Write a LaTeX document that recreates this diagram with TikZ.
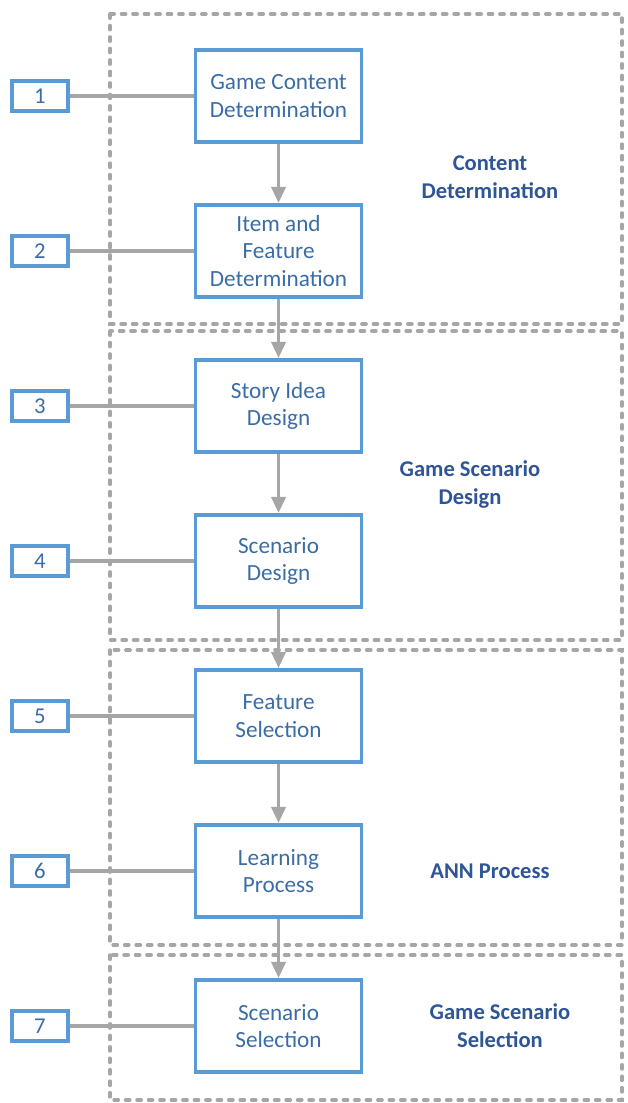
\documentclass[tikz,border=0pt]{standalone}
\usepackage{fontspec}
\setmainfont{Carlito}
\usetikzlibrary{arrows.meta, positioning, calc}
\definecolor{boxblue}{HTML}{5B9BD5}
\definecolor{txtblue}{HTML}{3A6DA6}
\definecolor{lblblue}{HTML}{2F5597}
\definecolor{linegray}{HTML}{A6A6A6}

\begin{document}
\begin{tikzpicture}
		[
	elem/.style={draw=boxblue,line width=2.8pt,rectangle,node distance=43.95pt,align=center,text=txtblue,font=\fontsize{17.4}{20.5}\selectfont,minimum width=124.5pt, minimum height=69.5pt,inner sep=2pt},
	num/.style={draw=boxblue,line width=2.8pt,rectangle,node distance=93pt,text=txtblue,font=\fontsize{17}{20}\selectfont,minimum width=42pt,minimum height=22pt,inner sep=0pt},
	grp/.style={draw=linegray,line width=2.6pt,dash pattern=on 3.2pt off 5.4pt,line cap=round},
	grplabel/.style={align=center,text=lblblue,font=\bfseries\fontsize{16.9}{21}\selectfont},
	link/.style={draw=linegray,line width=2.6pt},
	flow/.style={draw=linegray,line width=1.7pt,-{Triangle[length=12pt,width=11pt]}}
	]
		\useasboundingbox (-208.9pt,72pt) rectangle (261.4pt,-755.25pt);

		% group frames
		\draw [grp] (-126.4pt,61.5pt) rectangle (257.6pt,-171pt);
		\draw [grp] (-126.4pt,-176.25pt) rectangle (257.6pt,-408pt);
		\draw [grp] (-126.4pt,-415.5pt) rectangle (257.6pt,-636.75pt);
		\draw [grp] (-126.4pt,-644.25pt) rectangle (257.6pt,-753pt);

		\node (gcd) [elem] at (0,0) {Game Content\\Determination};
		\node (ifd) [elem,below=of gcd] {Item and\\Feature\\Determination};
		\node (sid) [elem,below=of ifd] {Story Idea\\Design};
		\node (scd) [elem,below=of sid] {Scenario\\Design};
		\node (fse) [elem,below=of scd] {Feature\\Selection};
		\node (lrp) [elem,below=of fse] {Learning\\Process};
		\node (ssl) [elem,below=of lrp] {Scenario\\Selection};

		\node (no1) [num,left=of gcd] {1};
		\node (no2) [num,left=of ifd] {2};
		\node (no3) [num,left=of sid] {3};
		\node (no4) [num,left=of scd] {4};
		\node (no5) [num,left=of fse] {5};
		\node (no6) [num,left=of lrp] {6};
		\node (no7) [num,left=of ssl] {7};

		\node (lcd) [grplabel] at ($(gcd)!0.5!(ifd)+(158.6pt,-2.5pt)$) {Content\\Determination};
		\node (lgd) [grplabel] at ($(sid)!0.5!(scd)+(143.6pt,-0.8pt)$) {Game Scenario\\Design};
		\node (lan) [grplabel] at ($(lrp)+(158.6pt,0)$) {ANN Process};
		\node (lgs) [grplabel] at ($(ssl)+(166.1pt,0)$) {Game Scenario\\Selection};

		\draw [link] (no1) -- (gcd);
		\draw [link] (no2) -- (ifd);
		\draw [link] (no3) -- (sid);
		\draw [link] (no4) -- (scd);
		\draw [link] (no5) -- (fse);
		\draw [link] (no6) -- (lrp);
		\draw [link] (no7) -- (ssl);

		\draw [flow] (gcd) -- (ifd);
		\draw [flow] (ifd) -- (sid);
		\draw [flow] (sid) -- (scd);
		\draw [flow] (scd) -- (fse);
		\draw [flow] (fse) -- (lrp);
		\draw [flow] (lrp) -- (ssl);
	\end{tikzpicture}
\end{document}
